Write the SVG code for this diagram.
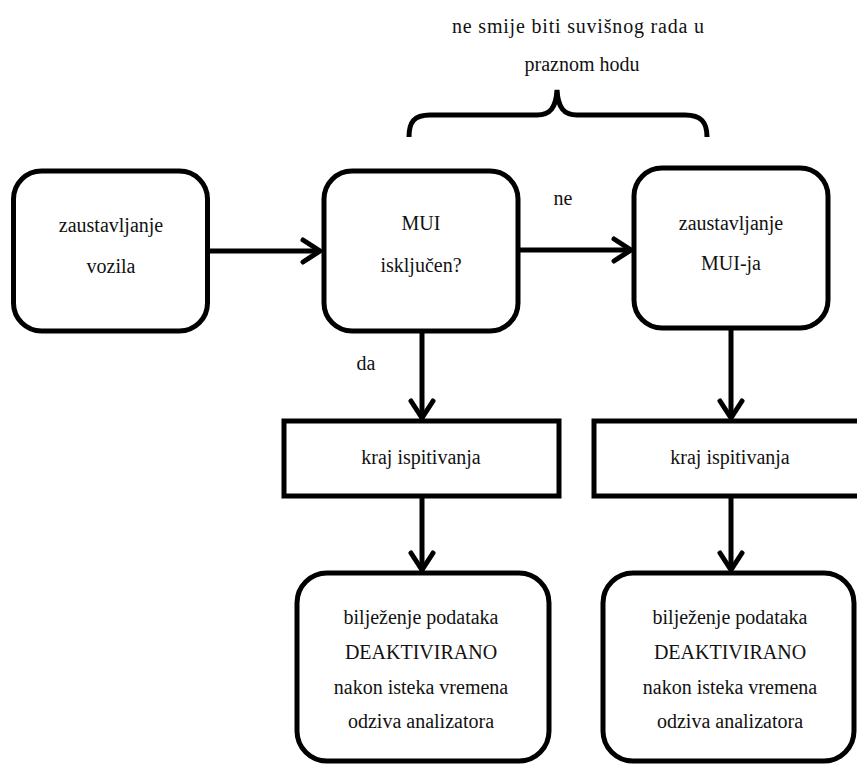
<svg xmlns="http://www.w3.org/2000/svg" width="857" height="765" viewBox="0 0 857 765">
<style>
  .box { fill: #fff; stroke: #000; stroke-width: 5; }
  .t { font-family: 'Liberation Serif', Tinos, 'Times New Roman', Times, 'DejaVu Serif', serif; font-size: 20px; fill: #111; text-anchor: middle; }
  .c { fill: none; stroke: #000; stroke-width: 5; }
</style>
<defs>
  <marker id="arr" markerUnits="userSpaceOnUse" markerWidth="30" markerHeight="30" viewBox="-22 -15 26 30" refX="0" refY="0" orient="auto">
    <path d="M-17,-11 L0,0 L-17,11" fill="none" stroke="#000" stroke-width="5" stroke-linecap="round" stroke-linejoin="miter"/>
  </marker>
</defs>
<rect width="857" height="765" fill="#fff"/>

<g id="annotation">
  <text class="t" x="578" y="33" textLength="252" lengthAdjust="spacing">ne smije biti suvišnog rada u</text>
  <text class="t" x="582" y="71">praznom hodu</text>
  <path class="c" d="M409,137 C409,122 414,115 430,115 L537,115 C550,115 556,108 557,90 C558,108 564,115 577,115 L685,115 C701,115 707,122 707,137"/>
</g>

<g id="connectors">
  <line class="c" x1="208" y1="251" x2="320" y2="251" marker-end="url(#arr)"/>
  <line class="c" x1="518" y1="250" x2="631" y2="250" marker-end="url(#arr)"/>
  <line class="c" x1="422" y1="331" x2="422" y2="418" marker-end="url(#arr)"/>
  <line class="c" x1="731" y1="328" x2="731" y2="418" marker-end="url(#arr)"/>
  <line class="c" x1="422" y1="496" x2="422" y2="570" marker-end="url(#arr)"/>
  <line class="c" x1="731" y1="496" x2="731" y2="570" marker-end="url(#arr)"/>
  <text class="t" x="563" y="205">ne</text>
  <text class="t" x="366" y="370">da</text>
</g>

<g id="n1">
  <rect class="box" x="13.5" y="171" width="194" height="160" rx="28"/>
  <text class="t" x="111" y="232">zaustavljanje</text>
  <text class="t" x="111" y="273">vozila</text>
</g>

<g id="n2">
  <rect class="box" x="324" y="171" width="194" height="160" rx="28"/>
  <text class="t" x="421" y="230">MUI</text>
  <text class="t" x="421" y="272">isključen?</text>
</g>

<g id="n3">
  <rect class="box" x="634" y="168" width="194" height="160" rx="28"/>
  <text class="t" x="731" y="230">zaustavljanje</text>
  <text class="t" x="731" y="270">MUI-ja</text>
</g>

<g id="n4">
  <rect class="box" x="284" y="421" width="275" height="75"/>
  <text class="t" x="421" y="464">kraj ispitivanja</text>
</g>

<g id="n5">
  <rect class="box" x="594" y="421" width="270" height="75"/>
  <text class="t" x="730" y="464">kraj ispitivanja</text>
</g>

<g id="n6">
  <rect class="box" x="297" y="573" width="252" height="188" rx="30"/>
  <text class="t" x="421" y="624">bilježenje podataka</text>
  <text class="t" x="421" y="659">DEAKTIVIRANO</text>
  <text class="t" x="421" y="694">nakon isteka vremena</text>
  <text class="t" x="421" y="728">odziva analizatora</text>
</g>

<g id="n7">
  <rect class="box" x="603" y="573" width="251" height="188" rx="30"/>
  <text class="t" x="730" y="624">bilježenje podataka</text>
  <text class="t" x="730" y="659">DEAKTIVIRANO</text>
  <text class="t" x="730" y="694">nakon isteka vremena</text>
  <text class="t" x="730" y="728">odziva analizatora</text>
</g>
</svg>
